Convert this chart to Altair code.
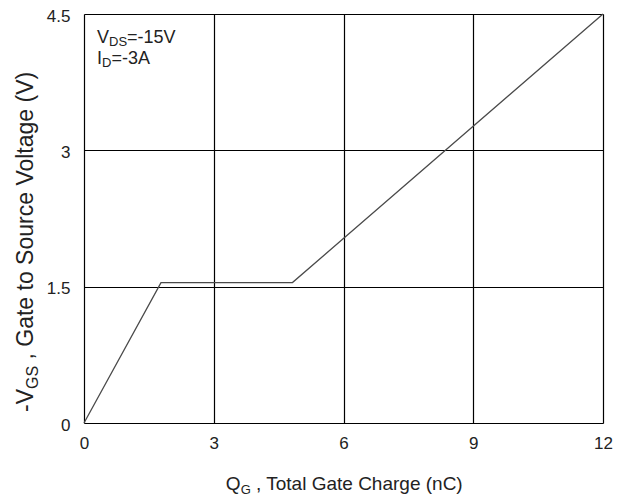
import altair as alt
import pandas as pd

# Data
qg = [0.0, 1.78, 4.82, 12.0]
vgs = [0.0, 1.545, 1.545, 4.5]
x_ticks = [0, 3, 6, 9, 12]
y_ticks = [0, 1.5, 3, 4.5]

FONT = "Liberation Sans"
W, H = 519, 409

df = pd.DataFrame({"qg": qg, "vgs": vgs})

xs = alt.Scale(domain=[0, 12], nice=False, zero=False)
ys = alt.Scale(domain=[0, 4.5], nice=False, zero=False)

line = alt.Chart(df).mark_line(color="#4a4a4a", strokeWidth=1.3).encode(
    x=alt.X("qg:Q", scale=xs, title=None,
            axis=alt.Axis(values=x_ticks, grid=True, gridColor="black", gridWidth=1.2,
                          gridOpacity=1, ticks=False, domain=False, labelFont=FONT,
                          labelFontSize=17, labelColor="#222", labelPadding=12,
                          labelFlush=False, format="d")),
    y=alt.Y("vgs:Q", scale=ys, title=None,
            axis=alt.Axis(values=y_ticks, grid=True, gridColor="black", gridWidth=1.2,
                          gridOpacity=1, ticks=False, domain=False, labelFont=FONT,
                          labelFontSize=17, labelColor="#222", labelPadding=14,
                          labelOffset=2, labelFlush=False,
                          labelExpr="datum.value == 0 ? '0' : format(datum.value, '.1~f')")),
)

one = pd.DataFrame({"a": [0]})


def txt(text, x, y, size, angle=0, align="left"):
    return alt.Chart(one).mark_text(
        text=text, font=FONT, fontSize=size, color="#222", align=align,
        baseline="alphabetic", angle=angle
    ).encode(x=alt.value(x), y=alt.value(y))


# Approximate Arial/Liberation Sans advance widths (em)
ADV = {"V": .667, "D": .722, "S": .667, "I": .278, "=": .584, "-": .333, "1": .556,
       "5": .556, "3": .556, "A": .667, "Q": .778, "G": .778, "T": .611, "o": .556,
       "t": .278, "a": .556, "l": .222, " ": .278, ",": .278, "e": .556, "C": .722,
       "h": .556, "r": .333, "g": .556, "(": .333, ")": .333, "n": .556, "u": .556,
       "c": .5}


def wid(s, size):
    return sum(ADV.get(ch, .556) for ch in s) * size


layers = [line]

# Annotation V_DS / I_D
fs, fsub = 18, 13
x0, yb1, yb2 = 13, 29, 50
layers.append(txt("V", x0, yb1, fs))
layers.append(txt("DS", x0 + wid("V", fs), yb1 + 3, fsub))
layers.append(txt("=-15V", x0 + wid("V", fs) + wid("DS", fsub), yb1, fs))
layers.append(txt("I", x0, yb2, fs))
layers.append(txt("D", x0 + wid("I", fs), yb2 + 3, fsub))
layers.append(txt("=-3A", x0 + wid("I", fs) + wid("D", fsub), yb2, fs))

# X title
tfs, tsub = 19, 13
rest = ", Total Gate Charge (nC)"
gap = wid(" ", tfs)
tw = wid("Q", tfs) + wid("G", tsub) + gap + wid(rest, tfs)
tx0 = W / 2 - tw / 2 + 2
ty = H + 67
layers.append(txt("Q", tx0, ty, tfs))
layers.append(txt("G", tx0 + wid("Q", tfs), ty + 4, tsub))
layers.append(txt(rest, tx0 + wid("Q", tfs) + wid("G", tsub) + gap, ty, tfs))

# Y title (rotated, reading bottom to top)
yfs, ysub = 23, 16
yrest = ", Gate to Source Voltage (V)"
ygap = wid(" ", yfs)
ybx = -51
ystart = 398
layers.append(txt("-V", ybx, ystart, yfs, angle=270))
layers.append(txt("GS", ybx + 5, ystart - wid("-V", yfs), ysub, angle=270))
layers.append(txt(yrest, ybx, ystart - wid("-V", yfs) - wid("GS", ysub) - ygap, yfs, angle=270))

chart = alt.layer(*layers).properties(
    width=W, height=H,
    autosize=alt.AutoSizeParams(type="none"),
    padding={"left": 76, "top": 6, "right": 16, "bottom": 73},
).configure_view(stroke="black", strokeWidth=1.5).configure(background="white")

chart.save("out.html", embed_options={"renderer": "svg", "actions": False})
